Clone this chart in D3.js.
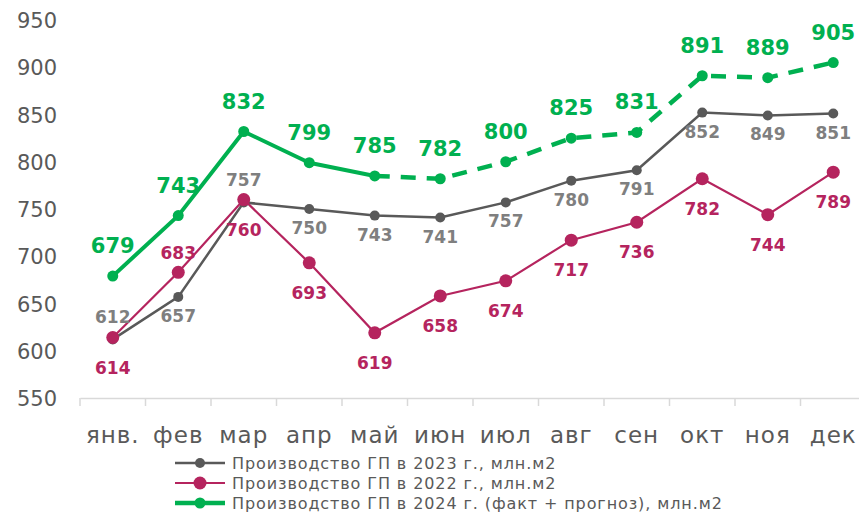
<!DOCTYPE html>
<html>
<head>
<meta charset="utf-8">
<script src="https://cdn.jsdelivr.net/npm/d3@7"></script>
<style>
  body { margin: 0; background: #fff; }
  text { font-family: "DejaVu Sans", sans-serif; }
</style>
</head>
<body>
<svg width="859" height="515"></svg>
<script>
const months = ["янв.", "фев", "мар", "апр", "май", "июн", "июл", "авг", "сен", "окт", "ноя", "дек"];
const yTicks = [550, 600, 650, 700, 750, 800, 850, 900, 950];

const v2023 = [612, 657, 757, 750, 743, 741, 757, 780, 791, 852, 849, 851];
const v2022 = [614, 683, 760, 693, 619, 658, 674, 717, 736, 782, 744, 789];
const v2024 = [679, 743, 832, 799, 785, 782, 800, 825, 831, 891, 889, 905];
const factCount = 5; // янв..май fact, rest forecast

// label placement: 1 = above, -1 = below
const pos2023 = [1, -1, 1, -1, -1, -1, -1, -1, -1, -1, -1, -1];
const pos2022 = [-1, 1, -1, -1, -1, -1, -1, -1, -1, -1, -1, -1];

const legendNames = [
  "Производство ГП в 2023 г., млн.м2",
  "Производство ГП в 2022 г., млн.м2",
  "Производство ГП в 2024 г. (факт + прогноз), млн.м2"
];

const cGrey = "#595959", cRed = "#B5245E", cGreen = "#00B050";

let svg = d3.select("svg");

let x = d3.scaleBand()
    .domain(months)
    .range([80, 866])
    .paddingInner(0).paddingOuter(0);

let y = d3.scaleLinear()
    .domain([550, 950])
    .range([398, 20]);

let cx = d => x(d) + x.bandwidth() / 2;

// y labels
svg.append("g").selectAll("text")
    .data(yTicks).enter().append("text")
    .attr("x", 57)
    .attr("y", d => y(d) + 8)
    .attr("text-anchor", "end")
    .attr("font-size", 21)
    .attr("fill", cGrey)
    .text(d => d);

// x axis
let xAxis = d3.axisBottom(x).tickSize(0).tickFormat("");
let ax = svg.append("g").attr("transform", "translate(0,398)").call(xAxis);
ax.select(".domain").attr("stroke", "#d9d9d9").attr("stroke-width", 1.5);
svg.append("g").selectAll("line")
    .data(months).enter().append("line")
    .attr("x1", d => x(d)).attr("x2", d => x(d))
    .attr("y1", 398).attr("y2", 406)
    .attr("stroke", "#d9d9d9").attr("stroke-width", 1.5);

svg.append("g").selectAll("text")
    .data(months).enter().append("text")
    .attr("x", d => cx(d))
    .attr("y", 443)
    .attr("text-anchor", "middle")
    .attr("font-size", 23)
    .attr("letter-spacing", 1)
    .attr("fill", cGrey)
    .text(d => d);

let line = d3.line()
    .x(d => cx(d.m))
    .y(d => y(d.v));

function pts(vals) {
    return vals.map((v, i) => ({ m: months[i], v: v, i: i }));
}

// 2023
let p23 = pts(v2023);
svg.append("path").attr("d", line(p23))
    .attr("fill", "none").attr("stroke", cGrey).attr("stroke-width", 2.5);
svg.append("g").selectAll("circle").data(p23).enter().append("circle")
    .attr("cx", d => cx(d.m)).attr("cy", d => y(d.v)).attr("r", 5).attr("fill", cGrey);

// 2022
let p22 = pts(v2022);
svg.append("path").attr("d", line(p22))
    .attr("fill", "none").attr("stroke", cRed).attr("stroke-width", 2.2);
svg.append("g").selectAll("circle").data(p22).enter().append("circle")
    .attr("cx", d => cx(d.m)).attr("cy", d => y(d.v)).attr("r", 6.5).attr("fill", cRed);

// 2024
let p24 = pts(v2024);
svg.append("path").attr("d", line(p24.slice(0, factCount)))
    .attr("fill", "none").attr("stroke", cGreen).attr("stroke-width", 4)
    .attr("stroke-linejoin", "round");
svg.append("path").attr("d", line(p24.slice(factCount - 1)))
    .attr("fill", "none").attr("stroke", cGreen).attr("stroke-width", 4.5)
    .attr("stroke-dasharray", "15,11");
svg.append("g").selectAll("circle").data(p24).enter().append("circle")
    .attr("cx", d => cx(d.m)).attr("cy", d => y(d.v)).attr("r", 5.5).attr("fill", cGreen);

// labels
svg.append("g").selectAll("text").data(p23).enter().append("text")
    .attr("x", d => cx(d.m))
    .attr("y", d => y(d.v) + (pos2023[d.i] > 0 ? -16 : 25))
    .attr("text-anchor", "middle").attr("font-size", 17).attr("font-weight", "bold")
    .attr("fill", "#7f7f7f")
    .text(d => d.v);

svg.append("g").selectAll("text").data(p22).enter().append("text")
    .attr("x", d => cx(d.m))
    .attr("y", d => y(d.v) + (pos2022[d.i] > 0 ? -13 : 36))
    .attr("text-anchor", "middle").attr("font-size", 17).attr("font-weight", "bold")
    .attr("fill", cRed)
    .text(d => d.v);

svg.append("g").selectAll("text").data(p24).enter().append("text")
    .attr("x", d => cx(d.m))
    .attr("y", d => y(d.v) - 23)
    .attr("text-anchor", "middle").attr("font-size", 21).attr("font-weight", "bold")
    .attr("fill", cGreen)
    .text(d => d.v);

// legend
let legColors = [cGrey, cRed, cGreen];
let legWidths = [2.5, 2.2, 4.5];
let legR = [5, 6.5, 5.5];
let lg = svg.append("g").selectAll("g").data(legendNames).enter().append("g")
    .attr("transform", (d, i) => `translate(0,${463 + i * 20})`);
lg.append("line").attr("x1", 175).attr("x2", 225)
    .attr("stroke", (d, i) => legColors[i]).attr("stroke-width", (d, i) => legWidths[i]);
lg.append("circle").attr("cx", 200).attr("r", (d, i) => legR[i]).attr("fill", (d, i) => legColors[i]);
lg.append("text").attr("x", 232).attr("y", 6)
    .attr("font-size", 16).attr("letter-spacing", 0.9).attr("fill", cGrey)
    .text(d => d);
</script>
</body>
</html>
